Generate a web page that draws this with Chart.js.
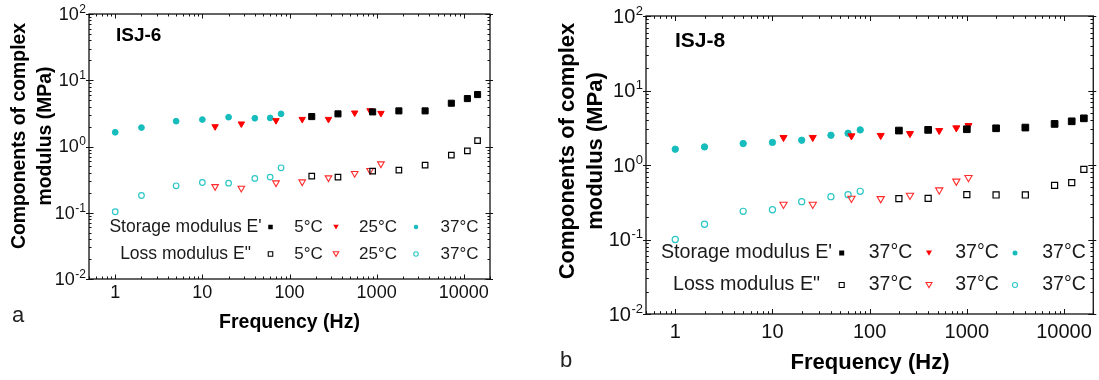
<!DOCTYPE html>
<html><head><meta charset="utf-8">
<script src="https://cdn.jsdelivr.net/npm/chart.js@4.4.1/dist/chart.umd.min.js"></script>
<style>
html,body{margin:0;padding:0;background:#fff;}
#wrap{position:relative;width:1099px;height:380px;overflow:hidden;background:#fff;}
canvas{position:absolute;top:0;}
</style></head><body>
<div id="wrap">
<canvas id="ca" width="550" height="380" style="left:0px"></canvas>
<canvas id="cb" width="549" height="380" style="left:550px"></canvas>
</div>
<script>
// ---------- DATA ----------
// Panel a (ISJ-6)
const freqA5  = [180, 360, 900, 1800, 3600, 7200, 11000, 14400];
const freqA25 = [14, 28, 70, 140, 280, 560, 840, 1120];
const freqA37 = [1, 2, 5, 10, 20, 40, 60, 80];
const storageA5  = [2.83, 3.11, 3.33, 3.45, 3.45, 4.50, 5.29, 6.08];
const storageA25 = [2.00, 2.20, 2.47, 2.58, 2.58, 3.22, 3.49, 3.18];
const storageA37 = [1.64, 1.93, 2.41, 2.55, 2.77, 2.67, 2.70, 3.11];
const lossA5  = [0.357, 0.345, 0.425, 0.440, 0.523, 0.740, 0.860, 1.23];
const lossA25 = [0.249, 0.235, 0.283, 0.293, 0.337, 0.392, 0.435, 0.548];
const lossA37 = [0.1035, 0.182, 0.255, 0.286, 0.280, 0.330, 0.345, 0.477];
// Panel b (ISJ-8)
const freqB1 = [200, 400, 1000, 2000, 4000, 8000, 12000, 16000];
const freqB2 = [13, 26, 65, 130, 260, 520, 780, 1040];
const freqB3 = [1, 2, 5, 10, 20, 40, 60, 80];
const storageB1 = [2.90, 2.96, 3.02, 3.11, 3.18, 3.56, 3.86, 4.23];
const storageB2 = [2.34, 2.34, 2.46, 2.49, 2.64, 2.90, 3.15, 3.38];
const storageB3 = [1.63, 1.75, 1.94, 2.01, 2.15, 2.51, 2.67, 2.96];
const lossB1 = [0.353, 0.357, 0.400, 0.396, 0.396, 0.533, 0.579, 0.875];
const lossB2 = [0.297, 0.297, 0.357, 0.353, 0.392, 0.462, 0.606, 0.678];
const lossB3 = [0.100, 0.160, 0.239, 0.251, 0.322, 0.376, 0.400, 0.443];
// Ticks and texts
const xTickValues = [1, 10, 100, 1000, 10000];
const xTickLabels = ['1', '10', '100', '1000', '10000'];
const yTickValues = [0.01, 0.1, 1, 10, 100];
const yTickExponents = ['-2', '-1', '0', '1', '2'];
const legendLabels = ["Storage modulus E'", 'Loss modulus E"'];
const legendTempsA = ['5°C', '25°C', '37°C'];
const legendTempsB = ['37°C', '37°C', '37°C'];
const titlesA = {name: 'ISJ-6', panel: 'a'};
const titlesB = {name: 'ISJ-8', panel: 'b'};
const xTitle = 'Frequency (Hz)';
const yTitleLines = ['Components of complex', 'modulus (MPa)'];

// ---------- STYLE ----------
const BLACK = '#000000', RED = '#ff0000', CYAN = '#17bdbd', CYAN_O = '#2cc6c6', RED_O = '#ff2a2a';
const FONT = '"Liberation Sans", Arial, sans-serif';
Chart.defaults.font.family = FONT;

function pts(xs, ys) { return xs.map((x, i) => ({x: x, y: ys[i]})); }

function markLegend(ctx, style, filled, color, x, y, s) {
  ctx.save();
  ctx.beginPath();
  if (style === 'rect') ctx.rect(x - s / 2, y - s / 2, s, s);
  else if (style === 'tri') { ctx.moveTo(x - s / 2, y - s * 0.42); ctx.lineTo(x + s / 2, y - s * 0.42); ctx.lineTo(x, y + s * 0.45); ctx.closePath(); }
  else ctx.arc(x, y, s / 2, 0, Math.PI * 2);
  if (filled) { ctx.fillStyle = color; ctx.fill(); }
  else { ctx.strokeStyle = color; ctx.lineWidth = 1.1; ctx.stroke(); }
  ctx.restore();
}

const decoPlugin = {
  id: 'deco',
  afterDraw(chart, args, o) {
    const ctx = chart.ctx, ca = chart.chartArea, xs = chart.scales.x, ys = chart.scales.y;
    ctx.save();
    // frame
    ctx.strokeStyle = '#111'; ctx.lineWidth = 1.3;
    ctx.strokeRect(ca.left, ca.top, ca.right - ca.left, ca.bottom - ca.top);
    ctx.lineWidth = 1;
    // x ticks (inside, top + bottom)
    for (let d = -1; d <= 4; d++) for (let m = 1; m <= 9; m++) {
      const v = m * Math.pow(10, d);
      if (v < xs.min * 0.999 || v > xs.max * 1.001) continue;
      const px = Math.round(xs.getPixelForValue(v)) + 0.5;
      const len = m === 1 ? o.majLen : o.minLen;
      ctx.beginPath();
      ctx.moveTo(px, ca.bottom); ctx.lineTo(px, ca.bottom - len);
      ctx.moveTo(px, ca.top); ctx.lineTo(px, ca.top + len);
      ctx.stroke();
    }
    // y ticks (major cross the frame)
    for (let d = -2; d <= 2; d++) for (let m = 1; m <= 9; m++) {
      const v = m * Math.pow(10, d);
      if (v < ys.min * 0.999 || v > ys.max * 1.001) continue;
      const py = Math.round(ys.getPixelForValue(v)) + 0.5;
      const major = m === 1;
      const len = major ? o.majLen : o.minLen;
      const out = major ? o.outLen : 0;
      ctx.beginPath();
      ctx.moveTo(ca.left - out, py); ctx.lineTo(ca.left + len, py);
      ctx.moveTo(ca.right + out, py); ctx.lineTo(ca.right - len, py);
      ctx.stroke();
    }
    ctx.fillStyle = '#111';
    // x tick labels
    ctx.font = o.tickFont + 'px ' + FONT;
    ctx.textAlign = 'center'; ctx.textBaseline = 'middle';
    xTickValues.forEach((v, i) => ctx.fillText(xTickLabels[i], xs.getPixelForValue(v), o.xLabelY));
    // y tick labels 10^n
    yTickValues.forEach((v, i) => {
      const py = ys.getPixelForValue(v);
      ctx.font = o.expFont + 'px ' + FONT;
      const w = ctx.measureText(yTickExponents[i]).width;
      ctx.textAlign = 'right'; ctx.textBaseline = 'middle';
      ctx.fillText(yTickExponents[i], o.expRight, py + o.expDy);
      ctx.font = o.tickFont + 'px ' + FONT;
      ctx.fillText('10', o.expRight - w - 0.5, py + 1);
    });
    // axis titles
    ctx.fillStyle = '#000';
    ctx.font = 'bold ' + o.xTitleFont + 'px ' + FONT;
    ctx.textAlign = 'center'; ctx.textBaseline = 'middle';
    ctx.fillText(xTitle, o.xTitleX, o.xTitleY);
    ctx.font = 'bold ' + o.yTitleFont + 'px ' + FONT;
    yTitleLines.forEach((t, i) => {
      ctx.save();
      ctx.translate(o.yTitleXs[i], o.yTitleY);
      ctx.rotate(-Math.PI / 2);
      ctx.fillText(t, 0, 0);
      ctx.restore();
    });
    // sample name and panel letter
    ctx.textAlign = 'left'; ctx.textBaseline = 'alphabetic';
    ctx.font = 'bold ' + o.nameFont + 'px ' + FONT;
    ctx.fillText(o.titles.name, o.nameX, o.nameY);
    ctx.font = o.panelFont + 'px ' + FONT;
    ctx.fillStyle = '#222';
    ctx.fillText(o.titles.panel, o.panelX, o.panelY);
    // legend
    ctx.fillStyle = '#1a1a1a';
    ctx.textBaseline = 'middle';
    const styles = ['rect', 'tri', 'circ'];
    const filledColors = [BLACK, RED, CYAN];
    const openColors = [BLACK, RED_O, CYAN_O];
    legendLabels.forEach((lab, r) => {
      const yy = o.legRows[r];
      ctx.font = o.legFont + 'px ' + FONT;
      ctx.textAlign = 'center';
      ctx.fillStyle = '#1a1a1a';
      ctx.fillText(lab, o.legLabelCx, yy);
      ctx.font = o.tempFont + 'px ' + FONT;
      o.temps.forEach((t, k) => {
        ctx.fillStyle = '#1a1a1a';
        ctx.fillText(t, o.tempCx[k], yy);
        markLegend(ctx, styles[k], r === 0, r === 0 ? filledColors[k] : openColors[k], o.markX[k], yy, o.markS[k]);
      });
    });
    ctx.restore();
  }
};

function sets(f1, f2, f3, s1, s2, s3, l1, l2, l3, k) {
  return [
    {data: pts(f1, s1), pointStyle: 'rect', pointRadius: 4.3 * k, backgroundColor: BLACK, borderColor: BLACK, borderWidth: 1},
    {data: pts(f2, s2), pointStyle: 'triangle', rotation: 180, pointRadius: 3.7 * k, backgroundColor: RED, borderColor: RED, borderWidth: 1},
    {data: pts(f3, s3), pointStyle: 'circle', pointRadius: 2.9 * k, backgroundColor: CYAN, borderColor: CYAN, borderWidth: 1},
    {data: pts(f1, l1), pointStyle: 'rect', pointRadius: 3.9 * k, backgroundColor: 'rgba(255,255,255,0)', borderColor: BLACK, borderWidth: 1.2},
    {data: pts(f2, l2), pointStyle: 'triangle', rotation: 180, pointRadius: 3.8 * k, backgroundColor: 'rgba(255,255,255,0)', borderColor: RED_O, borderWidth: 1.1},
    {data: pts(f3, l3), pointStyle: 'circle', pointRadius: 2.8 * k, backgroundColor: 'rgba(255,255,255,0)', borderColor: CYAN_O, borderWidth: 1.2}
  ];
}

function build(id, datasets, pad, deco) {
  return new Chart(document.getElementById(id), {
    type: 'scatter',
    data: {datasets: datasets},
    options: {
      responsive: false, animation: false, devicePixelRatio: 1,
      layout: {padding: pad},
      scales: {
        x: {type: 'logarithmic', min: 0.5, max: 20000, display: false},
        y: {type: 'logarithmic', min: 0.01, max: 100, display: false}
      },
      plugins: {legend: {display: false}, tooltip: {enabled: false}, deco: deco}
    },
    plugins: [decoPlugin]
  });
}

build('ca', sets(freqA5, freqA25, freqA37, storageA5, storageA25, storageA37, lossA5, lossA25, lossA37, 1),
  {left: 89, right: 60, top: 14, bottom: 101},
  {majLen: 4.5, minLen: 2.5, outLen: 3, tickFont: 18, expFont: 12, expRight: 86, expDy: -4.5, xLabelY: 293,
   xTitleFont: 19.5, xTitleX: 289.5, xTitleY: 323, yTitleFont: 19.4, yTitleXs: [20, 46], yTitleY: 136,
   titles: titlesA, nameFont: 19, nameX: 116, nameY: 40.7, panelFont: 22, panelX: 12, panelY: 322,
   legRows: [227, 254], legFont: 17.5, legLabelCx: 185.5, tempFont: 17, temps: legendTempsA,
   tempCx: [308.5, 378, 459.6], markX: [270.5, 336, 416], markS: [4.5, 5.5, 4.5]});

build('cb', sets(freqB1, freqB2, freqB3, storageB1, storageB2, storageB3, lossB1, lossB2, lossB3, 1.1),
  {left: 96, right: 5, top: 16, bottom: 66},
  {majLen: 5, minLen: 2.8, outLen: 3, tickFont: 20, expFont: 13, expRight: 93, expDy: -5, xLabelY: 332,
   xTitleFont: 22, xTitleX: 320, xTitleY: 363, yTitleFont: 22, yTitleXs: [18, 46], yTitleY: 151,
   titles: titlesB, nameFont: 21, nameX: 125, nameY: 46.7, panelFont: 22, panelX: 10, panelY: 367,
   legRows: [253, 285], legFont: 19.7, legLabelCx: 196.5, tempFont: 19.5, temps: legendTempsB,
   tempCx: [340.5, 427, 514], markX: [291.7, 379, 465], markS: [5, 6, 5]});
</script>
</body></html>
